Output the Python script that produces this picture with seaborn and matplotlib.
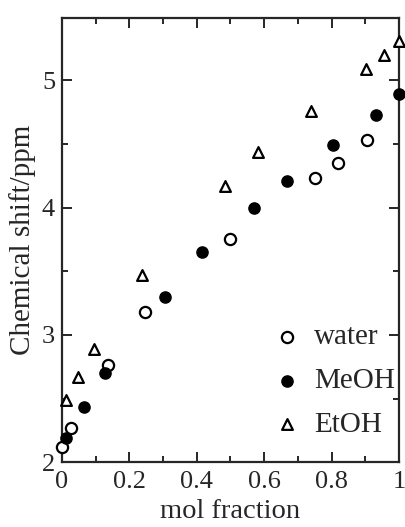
import pandas as pd
import matplotlib
matplotlib.use("Agg")
import matplotlib.pyplot as plt
import seaborn as sns
from matplotlib.ticker import MultipleLocator

# data
water_x = [0.0, 0.026, 0.137, 0.246, 0.50, 0.75, 0.82, 0.905]
water_y = [2.12, 2.27, 2.76, 3.18, 3.75, 4.23, 4.35, 4.53]
meoh_x = [0.012, 0.064, 0.129, 0.305, 0.416, 0.571, 0.668, 0.805, 0.931, 1.0]
meoh_y = [2.19, 2.43, 2.70, 3.30, 3.65, 4.00, 4.21, 4.49, 4.73, 4.89]
etoh_x = [0.012, 0.047, 0.094, 0.237, 0.483, 0.583, 0.738, 0.902, 0.955, 1.0]
etoh_y = [2.49, 2.67, 2.89, 3.47, 4.17, 4.44, 4.76, 5.09, 5.20, 5.31]

sns.set_style("ticks")
plt.rcParams['font.family'] = ['Liberation Serif', 'DejaVu Serif']

fig = plt.figure(figsize=(4.05, 5.27), dpi=100)
ax = fig.add_axes([0.153, 0.123, 0.832, 0.843])

sns.scatterplot(x=water_x, y=water_y, marker='o', s=65, facecolor='white',
                edgecolor='black', linewidth=1.6, label='water', ax=ax, clip_on=False, zorder=3)
sns.scatterplot(x=meoh_x, y=meoh_y, marker='o', s=65, color='black',
                edgecolor='black', linewidth=1.0, label='MeOH', ax=ax, clip_on=False, zorder=3)
sns.scatterplot(x=etoh_x, y=etoh_y, marker='^', s=60, facecolor='white',
                edgecolor='black', linewidth=1.6, label='EtOH', ax=ax, clip_on=False, zorder=3)

ax.set_xlim(0, 1)
ax.set_ylim(2, 5.49)
ax.xaxis.set_major_locator(MultipleLocator(0.2))
ax.xaxis.set_minor_locator(MultipleLocator(0.1))
ax.yaxis.set_major_locator(MultipleLocator(1))
ax.yaxis.set_minor_locator(MultipleLocator(0.5))
ax.set_xticks([0, 0.2, 0.4, 0.6, 0.8, 1])
ax.set_xticklabels(['0', '0.2', '0.4', '0.6', '0.8', '1'])
ax.set_yticks([2, 3, 4, 5])
ax.set_yticklabels(['2', '3', '4', '5'])
ax.tick_params(which='both', direction='in', top=True, right=True,
               labelsize=19, width=1.4)
ax.tick_params(axis='x', pad=6)
ax.tick_params(axis='y', pad=5)
ax.tick_params(which='major', length=7)
ax.tick_params(which='minor', length=4)
for sp in ax.spines.values():
    sp.set_linewidth(1.6)

ax.set_xlabel('mol fraction', fontsize=20.5, labelpad=5)
ax.set_ylabel('Chemical shift/ppm', fontsize=21, labelpad=4)

ax.legend(loc='lower right', bbox_to_anchor=(1.065, -0.005), frameon=False,
          fontsize=21, handletextpad=0.1, labelspacing=0.6, markerscale=1.0,
          handlelength=1.6)

fig.savefig('out.png', dpi=100)
